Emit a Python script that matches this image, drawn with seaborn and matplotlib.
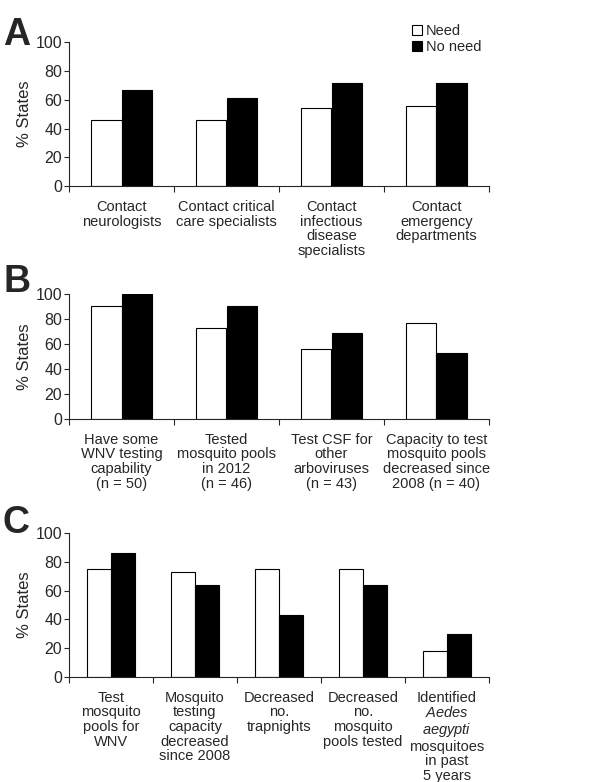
import pandas as pd
import matplotlib
matplotlib.use("Agg")
import matplotlib.pyplot as plt
import seaborn as sns
from matplotlib.patches import Patch

# data
groups = ["Need", "No need"]

a_items = ["Contact\nneurologists", "Contact critical\ncare specialists",
           "Contact\ninfectious\ndisease\nspecialists", "Contact\nemergency\ndepartments"]
a_need = [46, 46, 54, 56]
a_noneed = [67, 61, 72, 72]

b_items = ["Have some\nWNV testing\ncapability\n(n = 50)", "Tested\nmosquito pools\nin 2012\n(n = 46)",
           "Test CSF for\nother\narboviruses\n(n = 43)",
           "Capacity to test\nmosquito pools\ndecreased since\n2008 (n = 40)"]
b_need = [90, 73, 56, 77]
b_noneed = [100, 90, 69, 53]

c_items = ["Test\nmosquito\npools for\nWNV", "Mosquito\ntesting\ncapacity\ndecreased\nsince 2008",
           "Decreased\nno.\ntrapnights", "Decreased\nno.\nmosquito\npools tested",
           "Identified\n$\\it{Aedes}$\n$\\it{aegypti}$\nmosquitoes\nin past\n5 years"]
c_need = [75, 73, 75, 75, 18]
c_noneed = [86, 64, 43, 64, 30]

sns.set_style("ticks")
plt.rcParams['font.family'] = ['Liberation Sans', 'DejaVu Sans']
plt.rcParams['mathtext.fontset'] = 'custom'
plt.rcParams['mathtext.rm'] = 'Liberation Sans'
plt.rcParams['mathtext.it'] = 'Liberation Sans:italic'


def make_df(items, need, noneed):
    return pd.DataFrame({
        'item': items * 2,
        'pct': need + noneed,
        'group': [groups[0]] * len(items) + [groups[1]] * len(items),
    })


fig = plt.figure(figsize=(6, 7.82), dpi=100)

# axes boxes in figure fractions
boxes = [[0.115, 0.762, 0.70, 0.184],
         [0.115, 0.4642, 0.70, 0.160],
         [0.115, 0.1343, 0.70, 0.184]]
panels = [(a_items, a_need, a_noneed, "A", 0.9425),
          (b_items, b_need, b_noneed, "B", 0.6266),
          (c_items, c_need, c_noneed, "C", 0.3184)]

for box, (items, need, noneed, letter, ly) in zip(boxes, panels):
    ax = fig.add_axes(box)
    df = make_df(items, need, noneed)
    sns.barplot(data=df, x='item', y='pct', hue='group', palette=['white', 'black'],
                edgecolor='black', linewidth=0.8, width=0.58, legend=False, ax=ax)
    n = len(items)
    ax.set_xlim(-0.5, n - 0.5)
    ax.set_ylim(0, 100)
    ax.set_yticks([0, 20, 40, 60, 80, 100])
    ax.set_xticks(range(n))
    ax.set_xticklabels(items, fontsize=10.5, linespacing=1.05)
    ax.set_xticks([i - 0.5 for i in range(n + 1)], minor=True)
    ax.tick_params(axis='x', which='major', length=0, pad=10)
    ax.tick_params(axis='x', which='minor', length=4, width=0.8, direction='out')
    ax.tick_params(axis='y', length=3.5, width=0.8, labelsize=11.5, pad=1.5)
    ax.set_xlabel("")
    ax.set_ylabel("% States", fontsize=12)
    ax.yaxis.set_label_coords(-0.088, 0.5)
    for s in ['top', 'right']:
        ax.spines[s].set_visible(False)
    for s in ['left', 'bottom']:
        ax.spines[s].set_linewidth(0.8)
    fig.text(0.005, ly, letter, fontsize=27, fontweight='bold', va='baseline', ha='left')

    if letter == "A":
        handles = [Patch(facecolor='white', edgecolor='black', linewidth=0.8),
                   Patch(facecolor='black', edgecolor='black', linewidth=0.8)]
        ax.legend(handles, groups, loc='upper left', bbox_to_anchor=(0.817, 1.125),
                  frameon=False, fontsize=10.5, handlelength=0.65, handleheight=0.65,
                  handletextpad=0.3, labelspacing=0.15, borderaxespad=0, borderpad=0)

plt.savefig("out.png", dpi=100)
